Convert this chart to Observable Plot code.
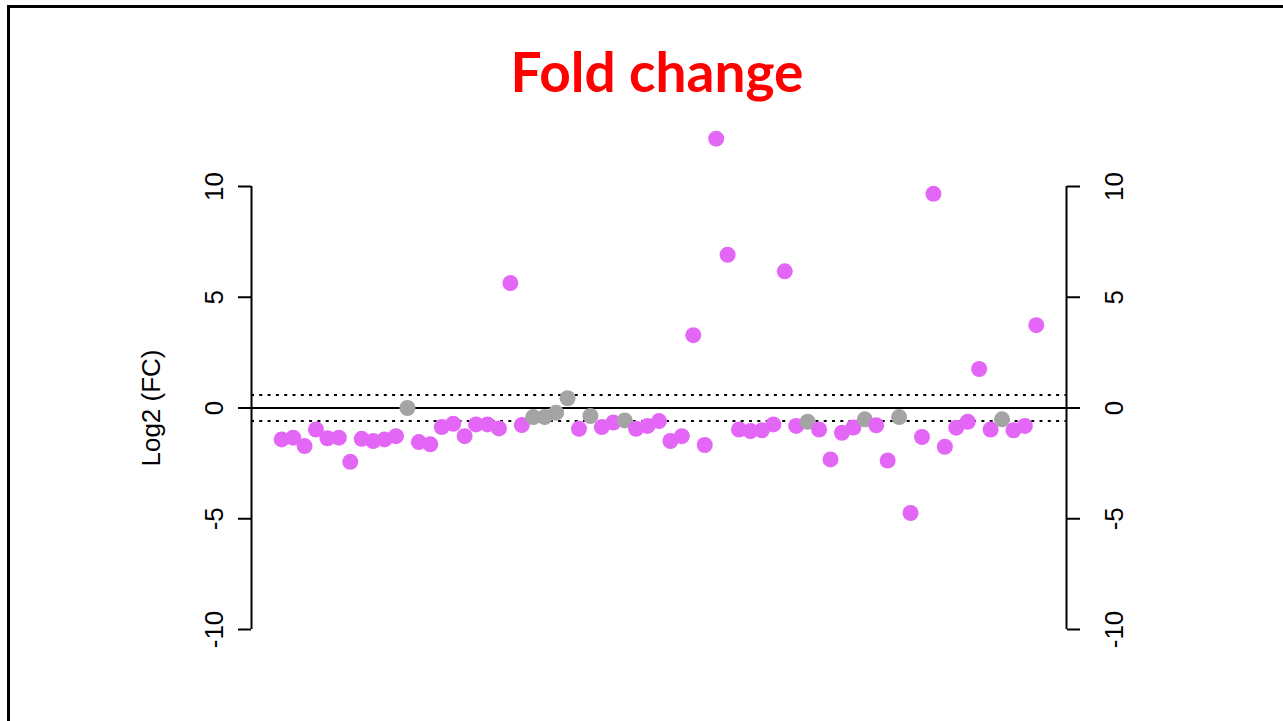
<!DOCTYPE html>
<html><head><meta charset="utf-8">
<script src="https://cdn.jsdelivr.net/npm/d3@7"></script>
<script src="https://cdn.jsdelivr.net/npm/@observablehq/plot@0.6"></script>
<style>
html,body{margin:0;padding:0;background:#fff;}
body{width:1283px;height:721px;overflow:hidden;position:relative;font-family:"Liberation Sans",Arial,sans-serif;}
#frame{position:absolute;left:7px;top:5px;width:1400px;height:800px;border-top:3px solid #000;border-left:3px solid #000;box-sizing:border-box;}
#title{position:absolute;left:0;top:38px;width:1314px;text-align:center;color:#ff0000;font-family:Lato,"Liberation Sans",sans-serif;font-weight:bold;font-size:55px;line-height:66px;}
#chart{position:absolute;left:0;top:100px;}
</style></head>
<body>
<div id="frame"></div>
<div id="chart"></div>
<div id="title">Fold change</div>
<script>
// log2 fold change per feature, in order
const values = [
  -1.42, -1.34, -1.72, -0.97, -1.37, -1.34, -2.43, -1.39, -1.49, -1.42,
  -1.27,  0.00, -1.54, -1.64, -0.86, -0.71, -1.27, -0.74, -0.74, -0.92,
   5.64, -0.77, -0.41, -0.41, -0.21,  0.44, -0.94, -0.36, -0.86, -0.66,
  -0.56, -0.94, -0.81, -0.59, -1.49, -1.27,  3.29, -1.67, 12.16,  6.92,
  -0.97, -1.04, -1.01, -0.74,  6.17, -0.81, -0.62, -0.97, -2.32, -1.12,
  -0.88, -0.51, -0.78, -2.37, -0.41, -4.74, -1.31,  9.67, -1.75, -0.89,
  -0.62,  1.76, -0.97, -0.51, -1.01, -0.81,  3.74
];
// positions (1-based) of the non-significant (grey) features
const nonSignificant = [12, 23, 24, 25, 26, 28, 31, 47, 52, 55, 64];
const yTicks = [-10, -5, 0, 5, 10];
const thresholds = [-0.585, 0.585];
const statusNames = ["significant", "not significant"];
const statusColors = ["#E466F6", "#A4A4A4"];

const data = values.map((v, i) => ({
  idx: i + 1,
  fc: v,
  status: nonSignificant.includes(i + 1) ? statusNames[1] : statusNames[0]
}));
const n = values.length;
const pad = (n - 1) * 0.04;
const xDomain = [1 - pad, n + pad];
const fmt = d => String(d);

const chart = Plot.plot({
  width: 1283,
  height: 621,
  marginTop: 86,
  marginBottom: 92,
  marginLeft: 251,
  marginRight: 217,
  x: {domain: xDomain, axis: null},
  y: {domain: [yTicks[0], yTicks[yTicks.length - 1]], axis: null},
  color: {domain: statusNames, range: statusColors},
  style: {fontFamily: "'Liberation Sans', Arial, sans-serif", fontSize: "26px", color: "#000", background: "transparent", overflow: "visible"},
  marks: [
    Plot.ruleY(thresholds, {stroke: "#000", strokeWidth: 2, strokeDasharray: "3,5.3"}),
    Plot.ruleY([0], {stroke: "#000", strokeWidth: 2}),
    Plot.dot(data, {x: "idx", y: "fc", r: 8, fill: "status", stroke: null}),
    Plot.ruleX([xDomain[0], xDomain[1]], {y1: yTicks[0], y2: yTicks[yTicks.length - 1], stroke: "#000", strokeWidth: 2}),
    Plot.axisY({anchor: "left", ticks: yTicks, tickFormat: fmt, tickSize: 13, tickRotate: -90, tickPadding: 16, label: null, strokeWidth: 2, fontSize: 26}),
    Plot.axisY({anchor: "right", ticks: yTicks, tickFormat: fmt, tickSize: 13, tickRotate: -90, tickPadding: 25, lineAnchor: "top", label: null, strokeWidth: 2, fontSize: 26}),
    Plot.text(["Log2 (FC)"], {frameAnchor: "left", textAnchor: "middle", lineAnchor: "middle", rotate: -90, dx: -100, fontSize: 26, fill: "#000"})
  ]
});
document.getElementById("chart").appendChild(chart);
</script>
</body></html>
